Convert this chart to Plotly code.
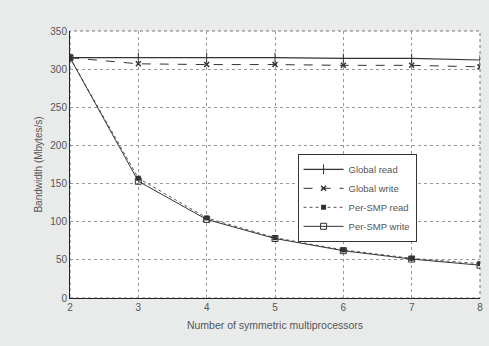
import plotly.graph_objects as go

smps = [2, 3, 4, 5, 6, 7, 8]
global_read = [315, 315, 315, 315, 314, 314, 312]
global_write = [315, 307, 306, 306, 305, 305, 303]
per_smp_read = [315, 157, 105, 79, 63, 52, 45]
per_smp_write = [315, 153, 103, 78, 62, 51, 43]

x_ticks = [2, 3, 4, 5, 6, 7, 8]
y_ticks = [0, 50, 100, 150, 200, 250, 300, 350]

fig = go.Figure()
fig.add_trace(go.Scatter(x=smps, y=global_read, name="Global read", mode="lines+markers",
                         line=dict(color="#333", width=1.2),
                         marker=dict(symbol="line-ns", size=7, line=dict(color="#333", width=1))))
fig.add_trace(go.Scatter(x=smps, y=global_write, name="Global write", mode="lines+markers",
                         line=dict(color="#333", width=1, dash="dash"),
                         marker=dict(symbol="x-thin", size=5, line=dict(color="#333", width=1.5))))
fig.add_trace(go.Scatter(x=smps, y=per_smp_read, name="Per-SMP read", mode="lines+markers",
                         line=dict(color="#555", width=1, dash="dot"),
                         marker=dict(symbol="square", size=5, color="#333")))
fig.add_trace(go.Scatter(x=smps, y=per_smp_write, name="Per-SMP write", mode="lines+markers",
                         line=dict(color="#333", width=1),
                         marker=dict(symbol="square-open", size=6, color="#333", line=dict(width=1))))

fig.update_layout(
    width=489, height=346,
    margin=dict(l=70, r=6, t=31, b=48),
    paper_bgcolor="#e9ebeb", plot_bgcolor="white",
    font=dict(family="Liberation Sans, Arial, sans-serif", size=10, color="#555"),
    showlegend=True,
    legend=dict(x=0.555, y=0.54, xanchor="left", yanchor="top",
                bgcolor="white", bordercolor="#333", borderwidth=1,
                font=dict(size=9.5, color="#555"), tracegroupgap=0, itemwidth=40),
)
fig.update_xaxes(range=[2, 8], tickvals=x_ticks, showgrid=True, gridcolor="#999", griddash="dot",
                 gridwidth=1, showline=True, linecolor="#222", linewidth=1, mirror=False,
                 ticks="", zeroline=False, ticklabeloverflow="allow",
                 title=dict(text="Number of symmetric multiprocessors", font=dict(size=10.5), standoff=9))
fig.update_yaxes(range=[0, 350], tickvals=y_ticks, showgrid=True, gridcolor="#999", griddash="dot",
                 gridwidth=1, showline=True, linecolor="#222", linewidth=1,
                 ticks="", zeroline=False,
                 title=dict(text="Bandwidth (Mbytes/s)", font=dict(size=10), standoff=5))
fig.add_shape(type="rect", xref="paper", yref="paper", x0=0, y0=0, x1=1, y1=1,
              line=dict(color="#777", width=1, dash="dot"), layer="below")
fig.write_html("out.html", config={"displayModeBar": False},
               post_script="document.body.style.margin='0';")
